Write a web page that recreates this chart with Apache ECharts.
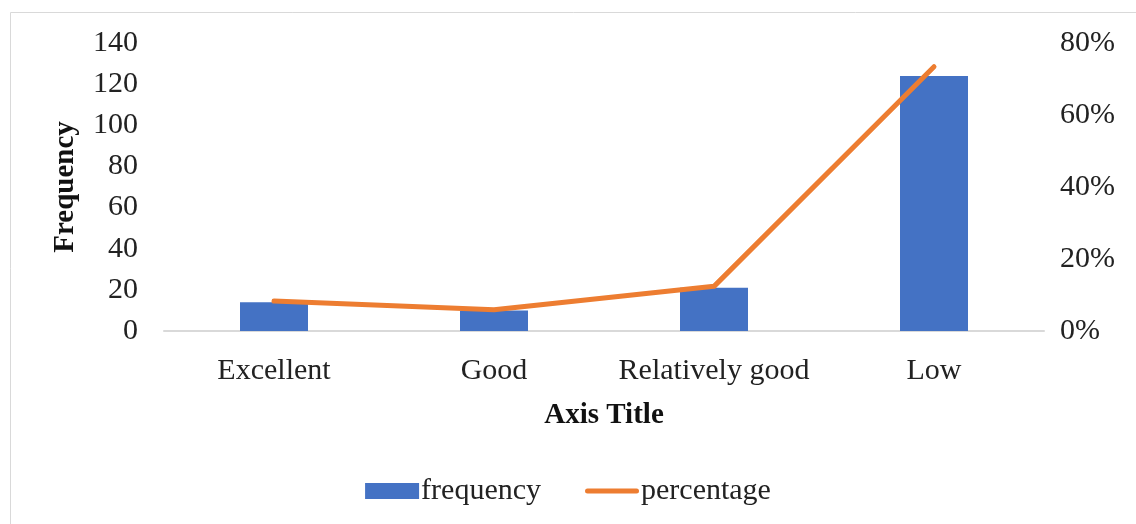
<!DOCTYPE html>
<html>
<head>
<meta charset="utf-8">
<script src="https://cdn.jsdelivr.net/npm/echarts@6/dist/echarts.min.js"></script>
<style>
  html, body { margin: 0; padding: 0; background: #fff; }
  #chart { width: 1136px; height: 524px; }
</style>
</head>
<body>
<div id="chart"></div>
<script>
// Performance ratings: counts and share of the total
const categories = ['Excellent', 'Good', 'Relatively good', 'Low'];
const frequency = [14, 10, 21, 124];
const percentage = [8.3, 5.9, 12.4, 73.4];
const freqTicks = { min: 0, max: 140, interval: 20 };
const pctTicks = { min: 0, max: 80, interval: 20 };

const FONT = '"Liberation Serif", "Times New Roman", serif';
const chart = echarts.init(document.getElementById('chart'));

chart.setOption({
  animation: false,
  textStyle: { fontFamily: FONT, color: '#222' },
  graphic: [{
    type: 'rect',
    shape: { x: 10.5, y: 12.5, width: 1140, height: 530 },
    style: { fill: 'none', stroke: '#d9d9d9', lineWidth: 1 },
    silent: true
  }],
  grid: { left: 164, right: 92, top: 43, bottom: 193 },
  legend: {
    bottom: 13,
    left: 'center',
    itemGap: 44,
    itemWidth: 54,
    itemHeight: 16,
    symbolKeepAspect: true,
    textStyle: { fontFamily: FONT, fontSize: 30, color: '#222', padding: [0, 0, 0, -3] },
    data: [
      { name: 'frequency', icon: 'rect' },
      { name: 'percentage', icon: 'path://M2.5,0 L51.5,0 A2.5,2.5 0 0 1 51.5,5 L2.5,5 A2.5,2.5 0 0 1 2.5,0 Z',
        itemStyle: { color: '#ED7D31' } }
    ]
  },
  xAxis: {
    type: 'category',
    data: categories,
    name: 'Axis Title',
    nameLocation: 'middle',
    nameGap: 70,
    nameTextStyle: { fontFamily: FONT, fontSize: 29, fontWeight: 'bold', color: '#111' },
    axisLine: { lineStyle: { color: '#d9d9d9', width: 2 } },
    axisTick: { show: false },
    axisLabel: { fontFamily: FONT, fontSize: 30, color: '#222', margin: 25, interval: 0 }
  },
  yAxis: [
    {
      type: 'value',
      min: freqTicks.min, max: freqTicks.max, interval: freqTicks.interval,
      name: 'Frequency',
      nameLocation: 'middle',
      nameGap: 84,
      nameRotate: 90,
      nameTextStyle: { fontFamily: FONT, fontSize: 29, fontWeight: 'bold', color: '#111' },
      axisLine: { show: false },
      axisTick: { show: false },
      splitLine: { show: false },
      axisLabel: { fontFamily: FONT, fontSize: 30, color: '#222', margin: 26 }
    },
    {
      type: 'value',
      min: pctTicks.min, max: pctTicks.max, interval: pctTicks.interval,
      position: 'right',
      axisLine: { show: false },
      axisTick: { show: false },
      splitLine: { show: false },
      axisLabel: { fontFamily: FONT, fontSize: 30, color: '#222', margin: 16, formatter: '{value}%' }
    }
  ],
  series: [
    {
      name: 'frequency',
      type: 'bar',
      data: frequency,
      barWidth: 68,
      itemStyle: { color: '#4472C4' }
    },
    {
      name: 'percentage',
      type: 'line',
      yAxisIndex: 1,
      data: percentage,
      symbol: 'none',
      lineStyle: { color: '#ED7D31', width: 5, cap: 'round', join: 'round' },
      itemStyle: { color: '#ED7D31' }
    }
  ]
});
</script>
</body>
</html>
